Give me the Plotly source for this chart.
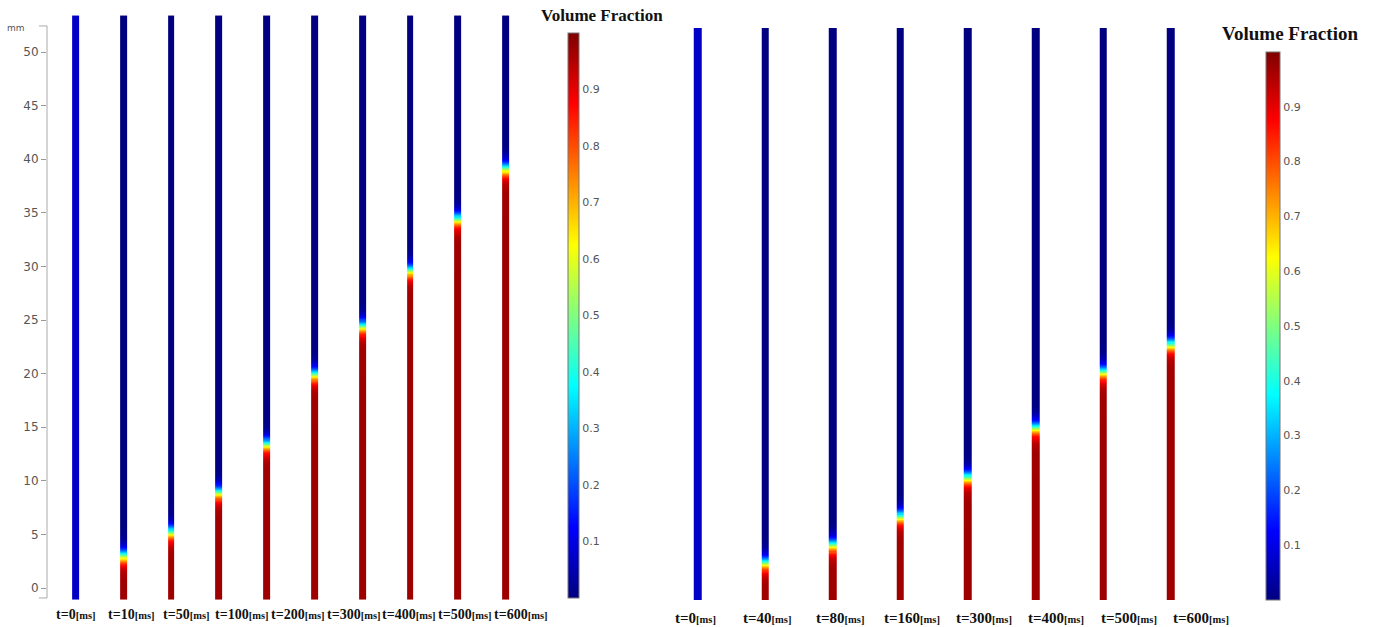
import numpy as np
import plotly.graph_objects as go

# ---------------- data ----------------
left_time_labels = ["0", "10", "50", "100", "200", "300", "400", "500", "600"]
# interface height (mm) of each of the 10 left columns (None = initial state, no liquid)
left_interface_mm = [None, 3.0, 5.2, 8.9, 13.4, 19.9, 24.4, 29.6, 34.4, 39.1]

right_time_labels = ["0", "40", "80", "160", "300", "400", "500", "600"]
right_interface_mm = [None, 2.3, 4.0, 6.7, 10.4, 15.1, 20.4, 23.0]

y_tick_values = [0, 5, 10, 15, 20, 25, 30, 35, 40, 45, 50]
colorbar_ticks = [0.1, 0.2, 0.3, 0.4, 0.5, 0.6, 0.7, 0.8, 0.9]

filled_fraction = 0.97
initial_fraction = 0.07
left_column_span_mm = (-1.1, 53.4)
right_column_span_mm = (-1.2, 53.0)

# ---------------- helpers ----------------
W, H = 1393, 627
jet = [[0.0, "rgb(0,0,128)"], [0.125, "rgb(0,0,255)"], [0.375, "rgb(0,255,255)"],
       [0.625, "rgb(255,255,0)"], [0.875, "rgb(255,0,0)"], [1.0, "rgb(128,0,0)"]]
INTERFACE_WIDTH = 0.42  # mm, smoothness of the rendered front


def profile(yc, h):
    if h is None:
        return np.full_like(yc, initial_fraction)
    return filled_fraction / (1.0 + np.exp((yc - h) / INTERFACE_WIDTH))


def build_z(span, interfaces):
    dy = 0.1
    yc = np.arange(span[0] + dy / 2, span[1], dy)
    z = np.column_stack([profile(yc, h) for h in interfaces])
    return yc, z


def label_text(t):
    return ("<b>t=" + t + "</b><span style='font-size:10.5px'><b>[ms]</b></span>")


fig = go.Figure()

# left panel
yl, zl = build_z(left_column_span_mm, left_interface_mm)
fig.add_trace(go.Heatmap(x=list(range(len(left_interface_mm))), y=yl, z=zl,
                         coloraxis="coloraxis", xgap=41, hoverinfo="skip",
                         xaxis="x", yaxis="y"))
# right panel
yr, zr = build_z(right_column_span_mm, right_interface_mm)
fig.add_trace(go.Heatmap(x=list(range(len(right_interface_mm))), y=yr, z=zr,
                         coloraxis="coloraxis2", xgap=60, hoverinfo="skip",
                         xaxis="x2", yaxis="y2"))

# pixel geometry
L_STEP, L_X0 = 47.8, 76.0
L_PXMM, L_Y0 = 10.72, 588.0
R_STEP, R_X0 = 67.6, 697.5
R_PXMM = 572.0 / 54.2

fig.update_layout(
    width=W, height=H, margin=dict(l=0, r=0, t=0, b=0),
    paper_bgcolor="white", plot_bgcolor="white", showlegend=False,
    xaxis=dict(domain=[47 / W, 560 / W],
               range=[(47 - L_X0) / L_STEP, (560 - L_X0) / L_STEP],
               visible=False),
    yaxis=dict(domain=[0, 1],
               range=[(L_Y0 - H) / L_PXMM, L_Y0 / L_PXMM],
               tickvals=y_tick_values, ticks="outside", ticklen=5,
               tickcolor="#999", tickfont=dict(family="DejaVu Sans", size=12, color="#555"),
               showgrid=False, zeroline=False, showline=False),
    xaxis2=dict(domain=[640 / W, 1240 / W],
                range=[(640 - R_X0) / R_STEP, (1240 - R_X0) / R_STEP],
                visible=False, anchor="y2"),
    yaxis2=dict(domain=[0, 1],
                range=[right_column_span_mm[0] - (H - 600) / R_PXMM,
                       right_column_span_mm[1] + 28 / R_PXMM],
                visible=False, anchor="x2"),
    coloraxis=dict(colorscale=jet, cmin=0, cmax=1,
                   colorbar=dict(x=568 / W, xanchor="left", y=1 - 33 / H, yanchor="top",
                                 len=565, lenmode="pixels", thickness=11,
                                 thicknessmode="pixels", xpad=0, ypad=0,
                                 outlinewidth=1, outlinecolor="#777",
                                 tickvals=colorbar_ticks, ticks="",
                                 tickfont=dict(family="DejaVu Sans", size=11, color="#555"))),
    coloraxis2=dict(colorscale=jet, cmin=0, cmax=1,
                    colorbar=dict(x=1266 / W, xanchor="left", y=1 - 52 / H, yanchor="top",
                                  len=548, lenmode="pixels", thickness=14,
                                  thicknessmode="pixels", xpad=0, ypad=0,
                                  outlinewidth=1, outlinecolor="#777",
                                  tickvals=colorbar_ticks, ticks="",
                                  tickfont=dict(family="DejaVu Sans", size=11, color="#555"))),
)

# axis line with end hooks (left panel)
ax_x = 47 / W
y_top, y_bot = 52.43, -0.93
for (x0, y0, x1, y1) in [(ax_x, y_bot, ax_x, y_top),
                         (ax_x, y_top, ax_x - 8 / W, y_top),
                         (ax_x, y_bot, ax_x - 8 / W, y_bot)]:
    fig.add_shape(type="line", xref="paper", yref="y", x0=x0, y0=y0, x1=x1, y1=y1,
                  line=dict(color="#aaa", width=1))

annotations = []
# left time labels
lx = np.linspace((75 - L_X0) / L_STEP, (520 - L_X0) / L_STEP, len(left_time_labels))
for t, x in zip(left_time_labels, lx):
    annotations.append(dict(x=x, xref="x", y=1 - 614 / H, yref="paper", text=label_text(t),
                            showarrow=False, xanchor="center", yanchor="middle",
                            font=dict(family="Liberation Serif", size=14, color="#111")))
# right time labels
rx = np.linspace((695 - R_X0) / R_STEP, (1201 - R_X0) / R_STEP, len(right_time_labels))
for t, x in zip(right_time_labels, rx):
    annotations.append(dict(x=x, xref="x2", y=1 - 618 / H, yref="paper", text=label_text(t),
                            showarrow=False, xanchor="center", yanchor="middle",
                            font=dict(family="Liberation Serif", size=15, color="#111")))
# colorbar titles
annotations.append(dict(x=602 / W, y=1 - 16 / H, xref="paper", yref="paper",
                        text="<b>Volume Fraction</b>", showarrow=False,
                        xanchor="center", yanchor="middle",
                        font=dict(family="Liberation Serif", size=17, color="#111")))
annotations.append(dict(x=1290 / W, y=1 - 34 / H, xref="paper", yref="paper",
                        text="<b>Volume Fraction</b>", showarrow=False,
                        xanchor="center", yanchor="middle",
                        font=dict(family="Liberation Serif", size=19, color="#111")))
# unit label
annotations.append(dict(x=16 / W, y=1 - 28 / H, xref="paper", yref="paper",
                        text="mm", showarrow=False, xanchor="center", yanchor="middle",
                        font=dict(family="DejaVu Sans", size=9, color="#555")))
fig.update_layout(annotations=annotations)

fig.write_html("out.html")
